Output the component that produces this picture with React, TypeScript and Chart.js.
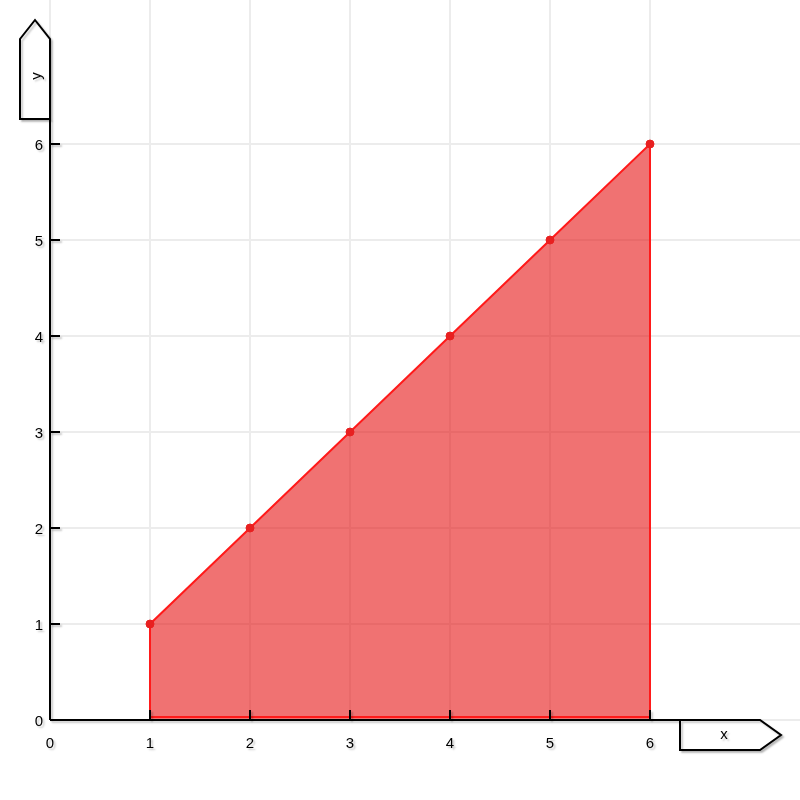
import { useEffect, useRef } from 'react';
import { Chart, registerables, Plugin } from 'chart.js';

Chart.register(...registerables);

const SERIES_X = [1, 2, 3, 4, 5, 6];
const SERIES_Y = [1, 2, 3, 4, 5, 6];
const X_TICKS = [0, 1, 2, 3, 4, 5, 6];
const Y_TICKS = [0, 1, 2, 3, 4, 5, 6];
const AXIS_MAX = 7.5;

const FONT = '15px "Liberation Sans", Arial, sans-serif';

function setShadow(ctx: CanvasRenderingContext2D) {
  ctx.shadowColor = 'rgba(0, 0, 0, 0.22)';
  ctx.shadowOffsetX = 2;
  ctx.shadowOffsetY = 2;
  ctx.shadowBlur = 2;
}

// area closed down to the baseline at both ends
const polygon = [
  { x: SERIES_X[0], y: 0, edge: true },
  ...SERIES_X.map((x, i) => ({ x, y: SERIES_Y[i], edge: false })),
  { x: SERIES_X[SERIES_X.length - 1], y: 0, edge: true },
];

const axesPlugin: Plugin = {
  id: 'boxedAxes',
  afterDraw(chart) {
    const { ctx, chartArea } = chart;
    const xs = chart.scales.x;
    const ys = chart.scales.y;
    const left = chartArea.left;
    const bottom = chartArea.bottom;

    ctx.save();
    // red base edge of the area, just above the axis
    ctx.strokeStyle = '#ff1a1a';
    ctx.lineWidth = 2;
    ctx.beginPath();
    ctx.moveTo(xs.getPixelForValue(SERIES_X[0]), bottom - 3);
    ctx.lineTo(xs.getPixelForValue(SERIES_X[SERIES_X.length - 1]), bottom - 3);
    ctx.stroke();

    setShadow(ctx);
    ctx.strokeStyle = '#000';
    ctx.lineWidth = 2;

    // axis lines up to the label boxes
    ctx.beginPath();
    ctx.moveTo(left, bottom);
    ctx.lineTo(680, bottom);
    ctx.moveTo(left, bottom);
    ctx.lineTo(left, 119);
    ctx.stroke();

    // inward tick marks
    ctx.beginPath();
    X_TICKS.filter((v) => v !== 0).forEach((v) => {
      const px = xs.getPixelForValue(v);
      ctx.moveTo(px, bottom);
      ctx.lineTo(px, bottom - 10);
    });
    Y_TICKS.filter((v) => v !== 0).forEach((v) => {
      const py = ys.getPixelForValue(v);
      ctx.moveTo(left, py);
      ctx.lineTo(left + 10, py);
    });
    ctx.stroke();

    // tick labels
    ctx.fillStyle = '#000';
    ctx.font = FONT;
    ctx.textBaseline = 'middle';
    ctx.textAlign = 'center';
    X_TICKS.forEach((v) => {
      ctx.fillText(String(v), xs.getPixelForValue(v), bottom + 24);
    });
    ctx.textAlign = 'right';
    Y_TICKS.forEach((v) => {
      ctx.fillText(String(v), left - 7, ys.getPixelForValue(v) + 2);
    });

    // y label box (arrow up)
    ctx.beginPath();
    ctx.moveTo(left - 30, 119);
    ctx.lineTo(left - 30, 39);
    ctx.lineTo(left - 15, 20);
    ctx.lineTo(left, 39);
    ctx.lineTo(left, 119);
    ctx.closePath();
    ctx.fillStyle = '#fff';
    ctx.fill();
    ctx.stroke();

    // x label box (arrow right)
    ctx.beginPath();
    ctx.moveTo(680, bottom);
    ctx.lineTo(760, bottom);
    ctx.lineTo(781, bottom + 15);
    ctx.lineTo(760, bottom + 30);
    ctx.lineTo(680, bottom + 30);
    ctx.closePath();
    ctx.fill();
    ctx.stroke();

    ctx.fillStyle = '#000';
    ctx.textAlign = 'center';
    ctx.fillText('x', 724, bottom + 15);

    ctx.translate(left - 13, 76);
    ctx.rotate(-Math.PI / 2);
    ctx.fillText('y', 0, 0);
    ctx.restore();
  },
};

export default function App() {
  const canvasRef = useRef<HTMLCanvasElement>(null);

  useEffect(() => {
    if (!canvasRef.current) return;

    const chart = new Chart(canvasRef.current, {
      type: 'line',
      data: {
        datasets: [
          {
            data: polygon,
            borderColor: '#ff1a1a',
            borderWidth: 2,
            backgroundColor: 'rgba(230, 20, 20, 0.6)',
            fill: 'origin',
            tension: 0,
            pointRadius: (c: any) => (c.raw && c.raw.edge ? 0 : 4),
            pointHoverRadius: 0,
            pointBackgroundColor: '#e82020',
            pointBorderColor: '#e82020',
            pointBorderWidth: 1,
          },
        ],
      },
      plugins: [axesPlugin],
      options: {
        animation: false,
        responsive: true,
        maintainAspectRatio: false,
        layout: { padding: 0 },
        plugins: {
          legend: { display: false },
          tooltip: { enabled: false },
        },
        scales: {
          x: {
            type: 'linear',
            min: 0,
            max: AXIS_MAX,
            afterBuildTicks: (scale) => {
              scale.ticks = X_TICKS.map((value) => ({ value }));
            },
            afterFit: (scale) => {
              scale.height = 80;
            },
            ticks: { display: false },
            border: { display: false },
            grid: { color: '#ececec', lineWidth: 2, drawTicks: false },
          },
          y: {
            type: 'linear',
            min: 0,
            max: AXIS_MAX,
            afterBuildTicks: (scale) => {
              scale.ticks = Y_TICKS.map((value) => ({ value }));
            },
            afterFit: (scale) => {
              scale.width = 50;
            },
            ticks: { display: false },
            border: { display: false },
            grid: { color: '#ececec', lineWidth: 2, drawTicks: false },
          },
        },
      },
    });

    return () => {
      chart.destroy();
    };
  }, []);

  return (
    <div style={{ position: 'fixed', left: 0, top: 0, width: 800, height: 800, background: '#fff' }}>
      <canvas ref={canvasRef} />
    </div>
  );
}
